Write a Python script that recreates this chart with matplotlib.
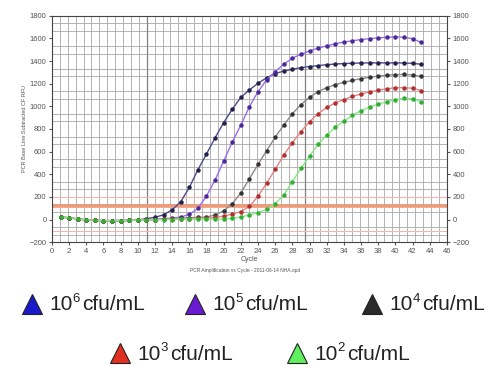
import matplotlib
matplotlib.use("Agg")
import matplotlib.pyplot as plt
import numpy as np

plt.rcParams['font.family'] = ['Liberation Sans', 'DejaVu Sans']

# PCR amplification data (RFU per cycle, cycles 1..43)
cycles = list(range(1, 44))
base = [22, 15, 5, -3, -8, -10, -10, -9, -8, -5]

rfu_1e6 = base + [8, 19, 42, 85, 157, 283, 440, 579, 722, 856, 974, 1080, 1145,
                  1204, 1252, 1290, 1312, 1328, 1342, 1352, 1360, 1368, 1374,
                  1378, 1381, 1383, 1384, 1384, 1384, 1384, 1383, 1380, 1372]
rfu_1e5 = base + [-2, 2, 8, 12, 22, 45, 98, 207, 349, 515, 685, 835, 997,
                  1130, 1234, 1307, 1372, 1425, 1461, 1490, 1514, 1535, 1553,
                  1568, 1580, 1590, 1598, 1605, 1610, 1615, 1610, 1598, 1565]
rfu_1e4 = base + [-2, 0, 4, 8, 12, 16, 18, 22, 40, 77, 140, 235, 360,
                  487, 608, 727, 835, 935, 1015, 1080, 1130, 1165, 1192,
                  1212, 1230, 1245, 1257, 1267, 1275, 1280, 1282, 1277, 1265]
rfu_1e3 = base + [-3, -1, 2, 4, 6, 8, 10, 12, 18, 30, 48, 70, 115,
                  205, 320, 443, 570, 679, 776, 865, 935, 990, 1030,
                  1060, 1088, 1110, 1128, 1142, 1155, 1165, 1165, 1160, 1140]
rfu_1e2 = base + [-4, -3, -1, 0, 2, 3, 5, 5, 4, 5, 10, 22, 40,
                  60, 90, 140, 216, 335, 452, 561, 665, 745, 815,
                  870, 920, 960, 995, 1020, 1042, 1060, 1070, 1068, 1040]

threshold = 120

exponents = ['6', '5', '4', '3', '2']
series = [rfu_1e6, rfu_1e5, rfu_1e4, rfu_1e3, rfu_1e2]
line_colors = ['#4b4b8f', '#9b6cf0', '#8a8a8a', '#ee8080', '#86e886']
dot_colors = ['#22224a', '#4a2a9a', '#333333', '#b03030', '#30b030']
legend_colors = ['#1a1acc', '#6a1ad0', '#2a2a2a', '#e03020', '#5ef05e']

fig = plt.figure(figsize=(4.9, 3.68), dpi=100)
ax = fig.add_axes([0.106, 0.342, 0.806, 0.615])

ax.set_xlim(0, 46)
ax.set_ylim(-200, 1800)
ax.set_xticks(np.arange(0, 47, 2))
ax.set_yticks(np.arange(-200, 1801, 200))
ax.set_xticks(np.arange(0, 46.01, 0.92), minor=True)
ax.set_yticks(np.arange(-200, 1800.1, 200 / 3), minor=True)
ax.grid(which='minor', color='#a8a8a8', linewidth=0.6)
ax.grid(which='major', visible=False)
ax.axvline(11.04, color='#808080', linewidth=0.9)
ax.axvline(29.44, color='#808080', linewidth=0.9)

for y in (200, -100):
    ax.axhline(y, color='#f4b8b0', linewidth=0.8)
ax.axhline(threshold, color='#f19a78', linewidth=2.6)

for vals, lc, dc in zip(series, line_colors, dot_colors):
    ax.plot(cycles, vals, color=lc, linewidth=1.0, marker='o', markersize=2.2,
            markerfacecolor=dc, markeredgecolor=dc)

ax.tick_params(which='both', labelsize=5.5, colors='#555555', length=2,
               labelright=True, right=True, pad=2)
ax.tick_params(which='minor', length=0)
for s in ax.spines.values():
    s.set_color('#444444')
    s.set_linewidth(0.8)
ax.set_xlabel('Cycle', fontsize=5, color='#555555', labelpad=1)
ax.set_ylabel('PCR Base Line Subtracted CF RFU', fontsize=4, color='#555555', labelpad=2)
fig.text(0.5, 0.262, 'PCR Amplification vs Cycle - 2011-06-14 NHA.opd',
         fontsize=3.5, color='#555555', ha='center')

# legend drawn below the plot
leg = fig.add_axes([0, 0, 1, 1], facecolor='none')
leg.set_xlim(0, 490)
leg.set_ylim(368, 0)
leg.axis('off')
spots = [(32, 304), (195, 304), (372, 304), (120, 353), (297, 353)]
for (x, y), ex, c in zip(spots, exponents, legend_colors):
    leg.plot(x, y, marker='^', markersize=14, color=c, markeredgecolor='#222222',
             markeredgewidth=0.8)
    leg.text(x + 17, y + 1, '10', fontsize=15, va='center', ha='left', color='#222222')
    leg.text(x + 40.5, y - 5, ex, fontsize=9.5, va='center', ha='left', color='#222222')
    leg.text(x + 50, y + 1, 'cfu/mL', fontsize=15, va='center', ha='left', color='#222222')

fig.savefig('out.png', dpi=100)
